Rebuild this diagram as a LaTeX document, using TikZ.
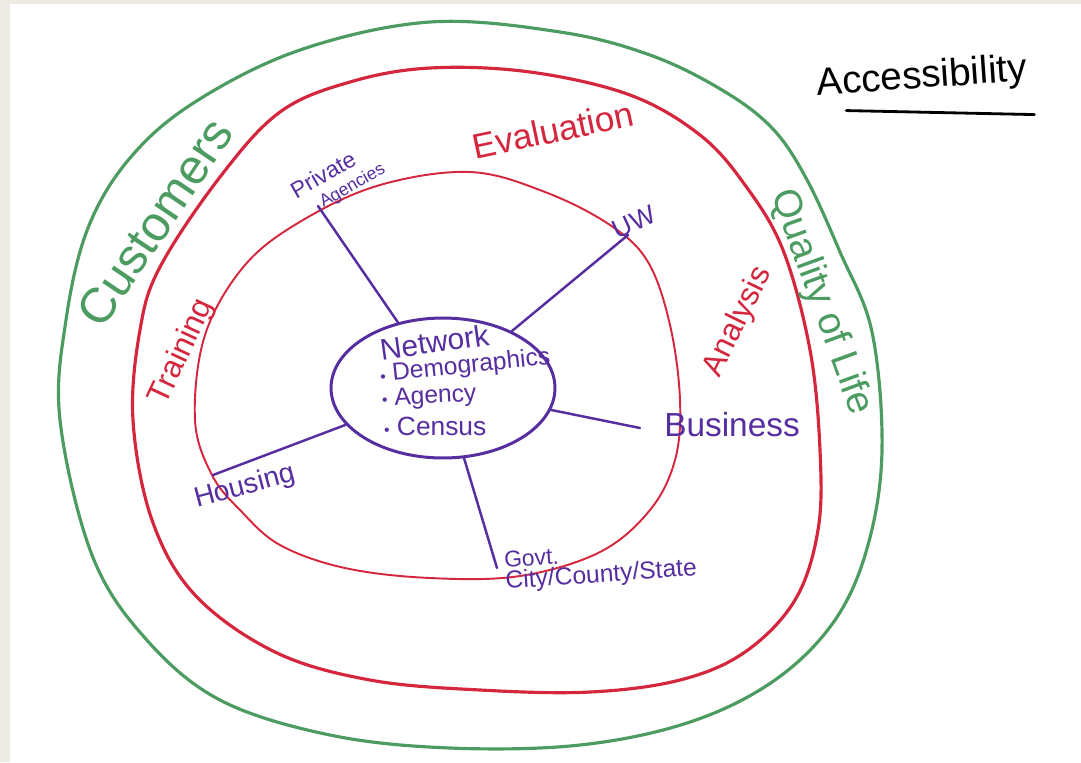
\documentclass[tikz,border=0pt]{standalone}
\usepackage{fontspec}
\setmainfont{Liberation Sans}
\usepackage{tikz}
\usetikzlibrary{shapes,calc,positioning}
\definecolor{custgreen}{RGB}{76,156,98}
\definecolor{evalred}{RGB}{212,38,60}
\definecolor{netpurple}{RGB}{86,46,160}
\definecolor{paper}{RGB}{237,234,227}

\begin{document}
\begin{tikzpicture}[x=0.02cm,y=-0.02cm]
  \def\GCOL{custgreen}
  \def\RCOL{evalred}
  \def\PCOL{netpurple}
  \tikzstyle{ring} = [line width=1.8pt, line join=round]
  \tikzstyle{spk} = [draw=\PCOL, line width=1.4pt, line cap=round]
  \tikzstyle{lbl} = [inner sep=1pt, align=center]
  \tikzstyle{net} = [ellipse, draw=\PCOL, line width=1.7pt, minimum width=4.48cm, minimum height=2.8cm, inner sep=0pt]

  % paper
  \fill[paper] (0,0) rectangle (1081,762);
  \fill[white] (10,4) rectangle (1081,762);
  \useasboundingbox (0,0) rectangle (1081,762);

  % rings
  \draw[ring,draw=\GCOL] plot[smooth cycle, tension=0.6] coordinates {(60,420) (66,320) (88,228) (130,158) (195,102) (300,50) (430,22) (560,32) (650,55) (722,90) (772,128) (806,178) (840,252) (872,332) (882,450) (868,545) (835,620) (775,680) (690,722) (580,745) (450,748) (330,735) (220,700) (145,638) (92,555)};
  \draw[ring,draw=\RCOL] plot[smooth cycle, tension=0.6] coordinates {(133,420) (140,330) (160,267) (220,177) (280,112) (350,82) (430,68) (530,72) (630,95) (700,135) (745,185) (783,250) (810,350) (820,450) (818,530) (795,600) (745,652) (680,680) (590,692) (480,690) (370,680) (275,652) (195,595) (152,520)};
  \draw[draw=\RCOL, line width=1.1pt] plot[smooth cycle, tension=0.6] coordinates {(195,420) (205,335) (245,265) (303,220) (380,185) (470,172) (545,192) (610,225) (648,262) (670,325) (680,400) (675,460) (650,510) (600,552) (520,576) (430,578) (345,568) (280,545) (240,510) (212,475)};

  % centre
  \node[net] (net) at (443,388) {};
  \node[lbl,text=\PCOL,anchor=west,rotate=8] (nw) at (378,350) {\fontsize{17}{18}\selectfont Network};
  \node[lbl,text=\PCOL,anchor=west,rotate=6] (d1) at (378,376) {\fontsize{14}{15}\selectfont {\fontsize{9}{9}\selectfont •} Demographics};
  \node[lbl,text=\PCOL,anchor=west,rotate=3] (d2) at (380,400) {\fontsize{14}{15}\selectfont {\fontsize{9}{9}\selectfont •} Agency};
  \node[lbl,text=\PCOL,anchor=west] (d3) at (382,426) {\fontsize{15}{16}\selectfont {\fontsize{9}{9}\selectfont •} Census};

  % spokes
  \node[lbl,text=\PCOL,rotate=30,align=left] (pa) at (338,180) {\fontsize{13}{14}\selectfont Private\\\hspace{1.1em}Agencies};
  \node[lbl,text=\PCOL,rotate=25] (uw) at (634,222) {\fontsize{15}{16}\selectfont UW};
  \node[lbl,text=\PCOL] (bus) at (732,425) {\fontsize{19}{20}\selectfont Business};
  \node[lbl,text=\PCOL,rotate=4,align=left,anchor=west] (gov) at (503,573) {\fontsize{13}{15}\selectfont Govt.\\\fontsize{14}{15}\selectfont City/County/State};
  \node[lbl,text=\PCOL,rotate=15] (hou) at (245,487) {\fontsize{16}{17}\selectfont Housing};

  \coordinate (paE) at (318,206);
  \coordinate (uwE) at (628,235);
  \coordinate (busE) at (640,428);
  \coordinate (govE) at (497,568);
  \coordinate (houE) at (213,475);
  \draw[spk] (net) -- (paE);
  \draw[spk] (net) -- (uwE);
  \draw[spk] (net) -- (busE);
  \draw[spk] (net) -- (govE);
  \draw[spk] (net) -- (houE);

  % ring words
  \node[lbl,text=\GCOL,rotate=56] (cust) at (155,222) {\fontsize{28}{30}\selectfont Customers};
  \node[lbl,text=\RCOL,rotate=65] (train) at (182,352) {\fontsize{18}{20}\selectfont Training};
  \node[lbl,text=\RCOL,rotate=12] (eval) at (553,130) {\fontsize{20}{22}\selectfont Evaluation};
  \node[lbl,text=\RCOL,rotate=64] (anal) at (738,322) {\fontsize{18}{20}\selectfont Analysis};
  \node[lbl,text=\GCOL,rotate=-70] (qol) at (821,302) {\fontsize{22}{24}\selectfont Quality of Life};

  \node[lbl,rotate=4] (acc) at (922,78) {\fontsize{22}{24}\selectfont Accessibility};
  \draw[line width=1.6pt, line cap=round] (acc.south west) ++(30,5) -- ++(188,4);
\end{tikzpicture}
\end{document}
